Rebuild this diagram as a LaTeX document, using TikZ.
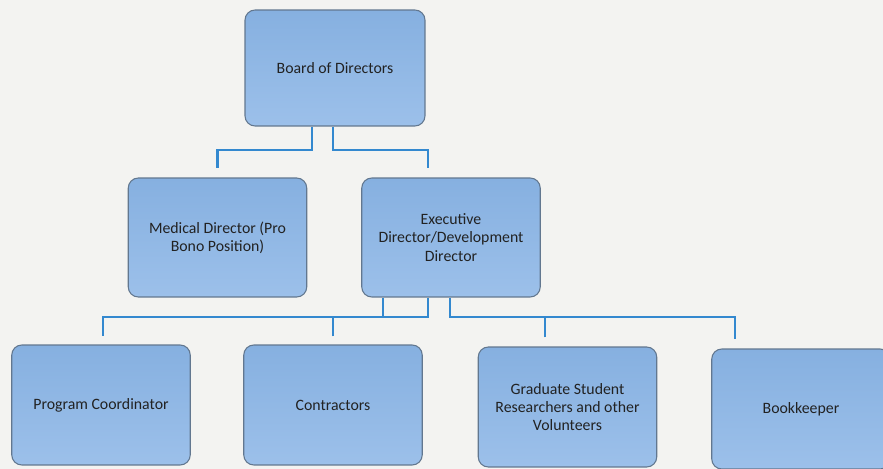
\documentclass[tikz,border=0pt]{standalone}
\usepackage{fontspec}
\setmainfont{Carlito}
\usepackage{xcolor}
\usepackage{tikz}
\definecolor{pagebg}{HTML}{F3F3F1}
\definecolor{boxtop}{HTML}{86B0E0}
\definecolor{boxbot}{HTML}{9CC0EA}
\definecolor{boxline}{HTML}{62778F}
\definecolor{linkcol}{HTML}{3388CF}
\definecolor{txtcol}{HTML}{222222}

\begin{document}
\begin{tikzpicture}[
  x=0.02cm,y=-0.02cm,
  obox/.style={draw=boxline,line width=0.6pt,rounded corners=0.2cm,
               top color=boxtop,bottom color=boxbot,
               minimum width=3.57cm,minimum height=2.38cm,
               align=center,text=txtcol,font=\fontsize{9}{10.4}\selectfont},
  link/.style={linkcol,line width=1.4pt}
]
  \fill[pagebg] (0,0) rectangle (883,469);
  \useasboundingbox (0,0) rectangle (883,469);

  % top level
  \node[obox,minimum width=3.6cm,minimum height=2.32cm] (board) at (335,68) {Board of Directors};

  % second level
  \node[obox] (med) at (217.5,237.5) {Medical Director (Pro\\Bono Position)};
  \node[obox] (exec) at (451,237.5) {Executive\\Director/Development\\Director};

  % third level
  \node[obox,minimum height=2.4cm] (prog) at (101,405) {Program Coordinator};
  \node[obox,minimum height=2.4cm] (contr) at (333,405) {Contractors};
  \node[obox,minimum height=2.4cm] (grad) at (567.5,407) {Graduate Student\\Researchers and other\\Volunteers};
  \node[obox,minimum height=2.4cm] (book) at (801,409) {Bookkeeper};

  % bus levels and stub points
  \coordinate (busA) at (0,150);
  \coordinate (busB) at (0,317);
  \coordinate (b1) at ([xshift=-0.46cm]board.south);
  \coordinate (b2) at ([xshift=-0.04cm]board.south);
  \coordinate (min) at ([yshift=0.18cm]med.north);
  \coordinate (xin) at ([xshift=-0.46cm,yshift=0.18cm]exec.north);
  \coordinate (e1) at ([xshift=-1.36cm]exec.south);
  \coordinate (e2) at ([xshift=-0.46cm]exec.south);
  \coordinate (e3) at ([xshift=-0.02cm]exec.south);
  \coordinate (pin) at ([xshift=0.04cm,yshift=0.16cm]prog.north);
  \coordinate (cin) at ([yshift=0.16cm]contr.north);
  \coordinate (gin) at ([xshift=-0.45cm,yshift=0.18cm]grad.north);
  \coordinate (kin) at ([xshift=-1.32cm,yshift=0.18cm]book.north);

  % board -> second level
  \draw[link] (b1) |- (busA -| min) -- (min);
  \draw[link] (b2) |- (busA -| xin) -- (xin);

  % executive -> third level
  \draw[link] (e1) -- (e1 |- busB);
  \draw[link] (e2) |- (busB -| pin) -- (pin);
  \draw[link] (cin) -- (cin |- busB);
  \draw[link] (e3) |- (busB -| kin) -- (kin);
  \draw[link] (gin) -- (gin |- busB);
\end{tikzpicture}
\end{document}
